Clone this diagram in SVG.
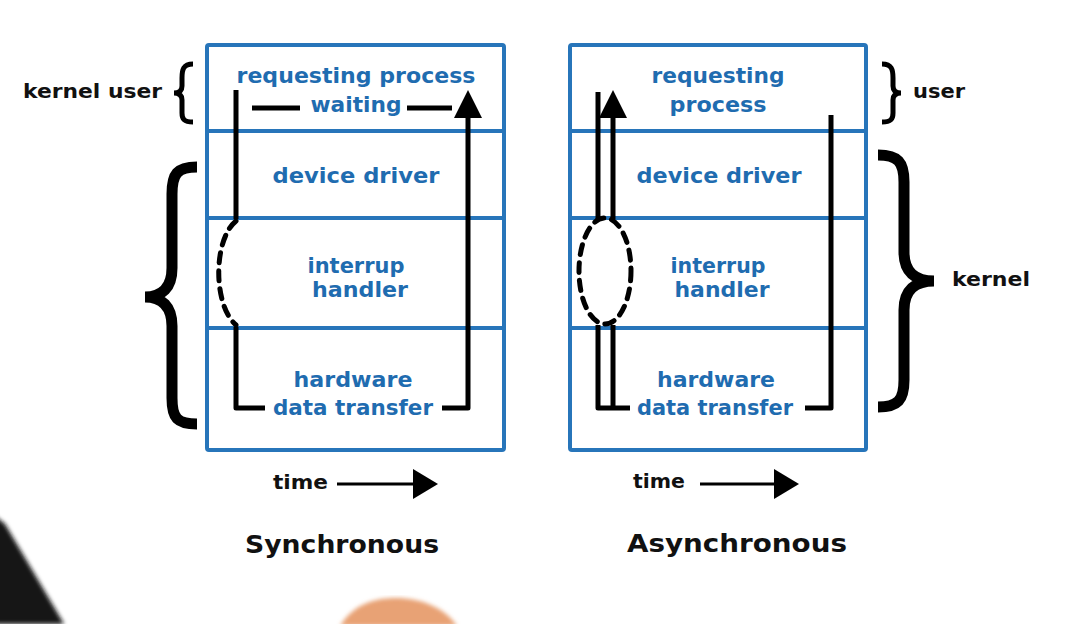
<svg xmlns="http://www.w3.org/2000/svg" width="1076" height="624" viewBox="0 0 1076 624">
<style>
.box{fill:none;stroke:#2775ba;stroke-width:4}
.div{stroke:#2775ba;stroke-width:4}
.bt{font-family:"DejaVu Sans",sans-serif;font-weight:bold;font-size:22px;fill:#1f6cb0;text-anchor:middle}
.kt{font-family:"DejaVu Sans",sans-serif;font-weight:bold;font-size:20px;fill:#111}
.tt{font-family:"DejaVu Sans",sans-serif;font-weight:bold;font-size:25px;fill:#111;text-anchor:middle}
.ln{fill:none;stroke:#000;stroke-width:5;stroke-linejoin:round}
.dash{fill:none;stroke:#000;stroke-width:5;stroke-dasharray:10 8;stroke-linecap:round}
.br{fill:none;stroke:#000;stroke-width:11}
.brs{fill:none;stroke:#000;stroke-width:5}
</style>
<defs>
<marker id="up" viewBox="0 0 28 28" markerWidth="28" markerHeight="28" refX="0" refY="14" orient="auto" markerUnits="userSpaceOnUse">
<path d="M0,0 L28,14 L0,28 z" fill="#000"/>
</marker>
<marker id="ta" viewBox="0 0 25 30" markerWidth="25" markerHeight="30" refX="0" refY="15" orient="auto" markerUnits="userSpaceOnUse">
<path d="M0,0 L25,15 L0,30 z" fill="#000"/>
</marker>
<filter id="soft"><feGaussianBlur stdDeviation="2"/></filter>
</defs>
<rect width="1076" height="624" fill="#fff"/>

<!-- photo artifacts -->
<path d="M-5,516 L5,524 L64,624 L-5,624 z" fill="#141414" filter="url(#soft)"/>
<path d="M340,626 C352,606 372,598 396,598 C420,598 444,607 457,626 z" fill="#e8a274" filter="url(#soft)"/>

<g id="sync-box">
<rect class="box" x="207" y="45" width="297" height="405" rx="2"/>
<line class="div" x1="207" y1="131" x2="504" y2="131"/>
<line class="div" x1="207" y1="218" x2="504" y2="218"/>
<line class="div" x1="207" y1="328" x2="504" y2="328"/>
</g>
<g id="sync-requesting">
<text class="bt" x="356" y="83" textLength="239" lengthAdjust="spacingAndGlyphs">requesting process</text>
<text class="bt" x="356" y="112" textLength="91" lengthAdjust="spacingAndGlyphs">waiting</text>
</g>
<g id="sync-driver"><text class="bt" x="356" y="183" textLength="167" lengthAdjust="spacingAndGlyphs">device driver</text></g>
<g id="sync-interrupt">
<text class="bt" x="356" y="273" textLength="97" lengthAdjust="spacingAndGlyphs">interrup</text>
<text class="bt" x="360" y="297" textLength="96" lengthAdjust="spacingAndGlyphs">handler</text>
</g>
<g id="sync-hardware">
<text class="bt" x="353" y="387" textLength="119" lengthAdjust="spacingAndGlyphs">hardware</text>
<text class="bt" x="353" y="415" textLength="160" lengthAdjust="spacingAndGlyphs">data transfer</text>
</g>

<g id="async-box">
<rect class="box" x="570" y="45" width="296" height="405" rx="2"/>
<line class="div" x1="570" y1="131" x2="866" y2="131"/>
<line class="div" x1="570" y1="218" x2="866" y2="218"/>
<line class="div" x1="570" y1="328" x2="866" y2="328"/>
</g>
<g id="async-requesting">
<text class="bt" x="718" y="83" textLength="133" lengthAdjust="spacingAndGlyphs">requesting</text>
<text class="bt" x="718" y="112" textLength="97" lengthAdjust="spacingAndGlyphs">process</text>
</g>
<g id="async-driver"><text class="bt" x="719" y="183" textLength="165" lengthAdjust="spacingAndGlyphs">device driver</text></g>
<g id="async-interrupt">
<text class="bt" x="718" y="273" textLength="95" lengthAdjust="spacingAndGlyphs">interrup</text>
<text class="bt" x="722" y="297" textLength="95" lengthAdjust="spacingAndGlyphs">handler</text>
</g>
<g id="async-hardware">
<text class="bt" x="716" y="387" textLength="118" lengthAdjust="spacingAndGlyphs">hardware</text>
<text class="bt" x="715" y="415" textLength="156" lengthAdjust="spacingAndGlyphs">data transfer</text>
</g>

<g id="connectors">
<!-- synchronous -->
<line class="ln" x1="252" y1="108" x2="300" y2="108"/>
<line class="ln" x1="407" y1="108" x2="452" y2="108"/>
<polyline class="ln" points="236,90 236,219"/>
<path class="dash" d="M236,221 C213,240 213,305 236,325"/>
<polyline class="ln" points="236,327 236,408 265,408"/>
<polyline class="ln" points="442,408 468,408 468,118" marker-end="url(#up)"/>
<!-- asynchronous -->
<polyline class="ln" points="598,92 598,219"/>
<polyline class="ln" points="613,219 613,118" marker-end="url(#up)"/>
<ellipse class="dash" cx="605" cy="271" rx="26" ry="53"/>
<polyline class="ln" points="598,325 598,408 630,408"/>
<polyline class="ln" points="613,325 613,408"/>
<polyline class="ln" points="805,408 831,408 831,115"/>
<!-- time arrows -->
<line x1="337" y1="484" x2="413" y2="484" stroke="#000" stroke-width="3" marker-end="url(#ta)"/>
<line x1="700" y1="484" x2="774" y2="484" stroke="#000" stroke-width="3" marker-end="url(#ta)"/>
</g>

<g id="left-labels">
<text class="kt" x="23" y="98" textLength="139" lengthAdjust="spacingAndGlyphs">kernel user</text>
<path class="brs" d="M193,64 C183,64 182,70 182,78 L182,86 C182,91 179,93 174,93 C179,93 182,95 182,100 L182,113 C182,119 184,122 193,122"/>
<path class="br" d="M197,167 C177,167 172,174 172,194 L172,268 C172,288 162,297 145,297 C162,297 172,306 172,326 L172,398 C172,418 177,424 197,424"/>
</g>
<g id="right-labels">
<path class="brs" d="M882,64 C892,64 893,70 893,78 L893,86 C893,91 896,93 901,93 C896,93 893,95 893,100 L893,113 C893,119 891,122 882,122"/>
<text class="kt" x="913" y="98" textLength="52" lengthAdjust="spacingAndGlyphs">user</text>
<path class="br" d="M878,155 C898,155 904,162 904,182 L904,252 C904,272 915,281 934,281 C915,281 904,290 904,310 L904,380 C904,400 898,407 878,407"/>
<text class="kt" x="952" y="286" textLength="78" lengthAdjust="spacingAndGlyphs">kernel</text>
</g>
<g id="time-labels">
<text class="kt" x="273" y="489" textLength="55" lengthAdjust="spacingAndGlyphs">time</text>
<text class="kt" x="633" y="488" textLength="52" lengthAdjust="spacingAndGlyphs">time</text>
</g>
<g id="titles">
<text class="tt" x="342" y="553" textLength="194" lengthAdjust="spacingAndGlyphs">Synchronous</text>
<text class="tt" x="737" y="552" textLength="220" lengthAdjust="spacingAndGlyphs">Asynchronous</text>
</g>
</svg>
